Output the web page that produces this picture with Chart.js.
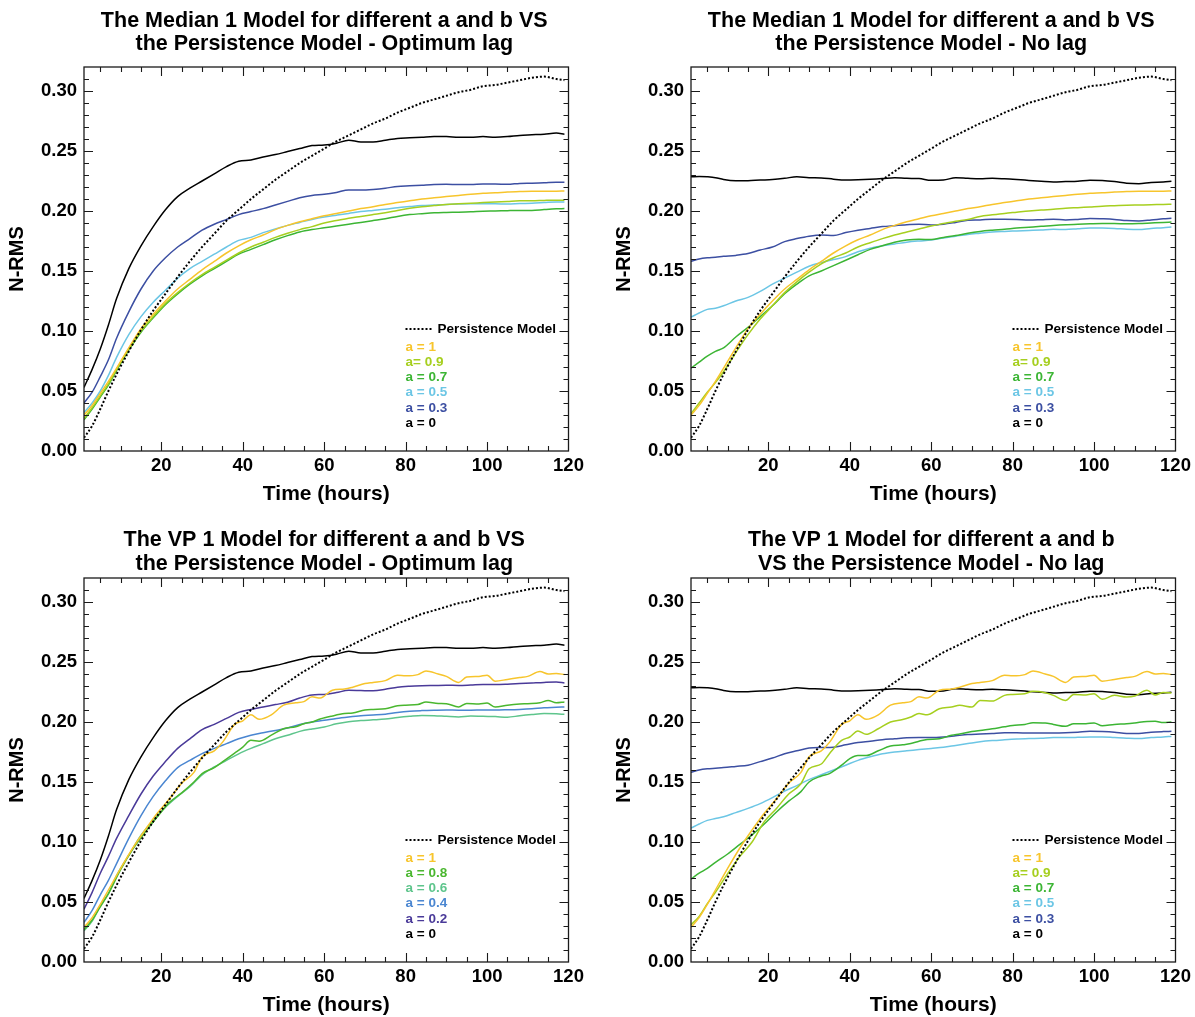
<!DOCTYPE html>
<html>
<head>
<meta charset="utf-8">
<script src="https://cdn.jsdelivr.net/npm/chart.js@4.4.1/dist/chart.umd.min.js"></script>
<style>
  body { margin: 0; background: #fff; overflow: hidden; }
  canvas { position: absolute; }
</style>
</head>
<body>
<canvas id="medianOpt" width="588" height="510" style="left:0;top:0"></canvas>
<canvas id="medianNoLag" width="588" height="510" style="left:607px;top:0"></canvas>
<canvas id="vpOpt" width="588" height="510" style="left:0;top:511px"></canvas>
<canvas id="vpNoLag" width="588" height="510" style="left:607px;top:511px"></canvas>
<script>
"use strict";

// forecast horizon (hours)
const hours = [1, 3, 5, 7, 9, 12, 15, 18, 21, 24, 27, 30, 33, 36, 39, 42, 45, 48, 51, 54, 57, 60,
  63, 66, 69, 72, 75, 78, 81, 84, 87, 90, 93, 96, 99, 102, 105, 108, 111, 114, 117, 119];
// finer grid for the noisier VP curves
const hoursVP = [1, 3, 5, 7, 10, 13, 16, 19, 22, 25, 28, 30, 33, 35, 38, 40, 42, 44, 47, 50, 53, 55,
  57, 59, 62, 65, 67, 70, 72, 75, 78, 80, 83, 85, 88, 90, 93, 95, 98, 100, 102, 105, 108, 110, 113,
  115, 117, 119];

const xTicks = [20, 40, 60, 80, 100, 120];
const yTicks = [0, 0.05, 0.10, 0.15, 0.20, 0.25, 0.30];

// N-RMS values
const persistence = [0.011, 0.021, 0.035, 0.050, 0.064, 0.083, 0.101, 0.117, 0.131, 0.145, 0.158,
  0.170, 0.181, 0.192, 0.201, 0.210, 0.218, 0.226, 0.233, 0.240, 0.246, 0.252, 0.258, 0.263, 0.268,
  0.273, 0.277, 0.282, 0.286, 0.290, 0.293, 0.296, 0.299, 0.301, 0.304, 0.305, 0.307, 0.309, 0.311,
  0.312, 0.310, 0.309];

const aZeroOptLag = [0.053, 0.068, 0.085, 0.105, 0.127, 0.152, 0.171, 0.187, 0.201, 0.212, 0.219,
  0.225, 0.231, 0.237, 0.2415, 0.2425, 0.245, 0.247, 0.2495, 0.252, 0.2545, 0.255, 0.2565, 0.259,
  0.2575, 0.2575, 0.259, 0.2605, 0.261, 0.2615, 0.262, 0.262, 0.2615, 0.2615, 0.262, 0.2615, 0.262,
  0.263, 0.2635, 0.264, 0.265, 0.264];

const aZeroNoLag = [0.2285, 0.2288, 0.2285, 0.2278, 0.2262, 0.2252, 0.2253, 0.2258, 0.2262, 0.2272,
  0.2286, 0.2278, 0.2276, 0.2265, 0.2258, 0.226, 0.2264, 0.227, 0.2278, 0.2272, 0.227, 0.2256,
  0.2258, 0.2278, 0.2272, 0.2268, 0.2272, 0.2268, 0.2262, 0.2255, 0.2248, 0.2242, 0.2245, 0.2248,
  0.2257, 0.2254, 0.2245, 0.2232, 0.2228, 0.2238, 0.2242, 0.2248];

const median_a1 = [0.030, 0.038, 0.048, 0.058, 0.069, 0.086, 0.102, 0.114, 0.125, 0.135, 0.143,
  0.151, 0.158, 0.165, 0.171, 0.176, 0.180, 0.1845, 0.188, 0.191, 0.1935, 0.196, 0.198, 0.200,
  0.202, 0.2035, 0.2055, 0.207, 0.2085, 0.210, 0.211, 0.212, 0.213, 0.214, 0.2148, 0.2152, 0.2158,
  0.2162, 0.2165, 0.2165, 0.2165, 0.2167];

const medOpt_a09 = [0.027, 0.036, 0.046, 0.056, 0.068, 0.085, 0.100, 0.112, 0.123, 0.132, 0.140,
  0.147, 0.153, 0.159, 0.165, 0.170, 0.174, 0.178, 0.1815, 0.1845, 0.187, 0.190, 0.192, 0.194,
  0.1955, 0.197, 0.1985, 0.2005, 0.2022, 0.2035, 0.2045, 0.2055, 0.206, 0.2065, 0.207, 0.2075,
  0.208, 0.2085, 0.2085, 0.2088, 0.209, 0.209];
const medOpt_a07 = [0.026, 0.035, 0.045, 0.055, 0.067, 0.084, 0.099, 0.111, 0.122, 0.131, 0.139,
  0.146, 0.152, 0.158, 0.164, 0.168, 0.172, 0.176, 0.1795, 0.1825, 0.1845, 0.186, 0.1875, 0.189,
  0.1905, 0.192, 0.1935, 0.1955, 0.197, 0.1978, 0.1985, 0.1988, 0.199, 0.1993, 0.1998, 0.200,
  0.2003, 0.2005, 0.2005, 0.2012, 0.2018, 0.202];
const medOpt_a05 = [0.032, 0.040, 0.050, 0.063, 0.078, 0.097, 0.112, 0.124, 0.134, 0.144, 0.152,
  0.158, 0.164, 0.170, 0.1755, 0.178, 0.182, 0.185, 0.188, 0.1905, 0.193, 0.195, 0.1965, 0.198,
  0.1995, 0.2005, 0.2015, 0.2028, 0.2037, 0.2045, 0.205, 0.2055, 0.2058, 0.206, 0.206, 0.206,
  0.2058, 0.2062, 0.2065, 0.207, 0.2075, 0.2075];
const medOpt_a03 = [0.040, 0.049, 0.062, 0.076, 0.094, 0.116, 0.135, 0.150, 0.161, 0.170, 0.177,
  0.184, 0.189, 0.193, 0.197, 0.1995, 0.202, 0.205, 0.208, 0.211, 0.213, 0.214, 0.2155, 0.2175,
  0.2175, 0.218, 0.219, 0.2205, 0.221, 0.2215, 0.222, 0.2222, 0.222, 0.222, 0.2225, 0.2225, 0.2222,
  0.223, 0.2232, 0.2235, 0.224, 0.224];

const medNo_a09 = [0.031, 0.040, 0.049, 0.057, 0.066, 0.082, 0.097, 0.110, 0.121, 0.132, 0.141,
  0.149, 0.156, 0.161, 0.165, 0.170, 0.1736, 0.177, 0.180, 0.1825, 0.185, 0.1875, 0.1895, 0.1915,
  0.193, 0.1955, 0.1968, 0.198, 0.199, 0.200, 0.2008, 0.2014, 0.2022, 0.2028, 0.2034, 0.204, 0.2044,
  0.2048, 0.205, 0.2052, 0.2055, 0.2056];
const medNo_a07 = [0.069, 0.074, 0.079, 0.083, 0.086, 0.095, 0.103, 0.112, 0.121, 0.131, 0.139,
  0.146, 0.150, 0.1545, 0.159, 0.1635, 0.168, 0.171, 0.174, 0.1758, 0.1765, 0.1762, 0.178, 0.1795,
  0.1815, 0.183, 0.184, 0.1848, 0.1858, 0.1865, 0.1872, 0.188, 0.1886, 0.189, 0.1893, 0.1895, 0.1895,
  0.1893, 0.1895, 0.190, 0.1905, 0.1908];
const medNo_a05 = [0.1115, 0.115, 0.118, 0.119, 0.121, 0.125, 0.128, 0.133, 0.139, 0.144, 0.149,
  0.154, 0.157, 0.1595, 0.162, 0.166, 0.169, 0.171, 0.1725, 0.174, 0.175, 0.1758, 0.1775, 0.179,
  0.1805, 0.1815, 0.1825, 0.183, 0.1834, 0.1838, 0.1842, 0.1847, 0.1845, 0.1852, 0.1858, 0.1858,
  0.1855, 0.1848, 0.1845, 0.1855, 0.186, 0.1867];
const medNo_a03 = [0.158, 0.160, 0.161, 0.1615, 0.1622, 0.163, 0.1645, 0.1675, 0.170, 0.1745, 0.177,
  0.179, 0.180, 0.1795, 0.182, 0.184, 0.1855, 0.187, 0.1878, 0.1885, 0.189, 0.1883, 0.189, 0.1905,
  0.1922, 0.1925, 0.1932, 0.1932, 0.193, 0.1925, 0.1928, 0.1932, 0.1925, 0.193, 0.1938, 0.1935,
  0.193, 0.192, 0.1917, 0.1925, 0.1935, 0.194];

// VP model, on hoursVP
const vp_a1 = [0.029, 0.037, 0.048, 0.060, 0.078, 0.095, 0.110, 0.124, 0.136, 0.149, 0.158, 0.171,
  0.176, 0.183, 0.198, 0.201, 0.206, 0.2022, 0.206, 0.214, 0.216, 0.217, 0.221, 0.220, 0.2265,
  0.2275, 0.229, 0.232, 0.233, 0.2345, 0.239, 0.2385, 0.2395, 0.2425, 0.240, 0.238, 0.233, 0.2375,
  0.238, 0.239, 0.234, 0.2355, 0.237, 0.238, 0.242, 0.240, 0.2405, 0.2395];
const vpOpt_a08 = [0.027, 0.035, 0.046, 0.057, 0.077, 0.094, 0.108, 0.121, 0.133, 0.141, 0.150,
  0.157, 0.162, 0.1667, 0.174, 0.179, 0.1847, 0.184, 0.189, 0.1944, 0.196, 0.1986, 0.200, 0.2025,
  0.205, 0.207, 0.2075, 0.210, 0.2105, 0.211, 0.2135, 0.214, 0.2145, 0.2167, 0.2155, 0.2153, 0.2125,
  0.2155, 0.215, 0.2158, 0.2125, 0.214, 0.215, 0.2153, 0.216, 0.218, 0.216, 0.2167];
const vpNo_a09 = [0.031, 0.038, 0.0486, 0.058, 0.0736, 0.088, 0.100, 0.117, 0.128, 0.140, 0.1486,
  0.161, 0.165, 0.1736, 0.1847, 0.1875, 0.1925, 0.1897, 0.1944, 0.200, 0.202, 0.2042, 0.207, 0.2061,
  0.2111, 0.2125, 0.2139, 0.2125, 0.218, 0.2175, 0.2222, 0.223, 0.2236, 0.2256, 0.2244, 0.2222,
  0.218, 0.223, 0.2225, 0.2236, 0.2189, 0.2222, 0.2208, 0.2217, 0.2264, 0.2225, 0.2245, 0.2242];
const vpNo_a07 = [0.069, 0.074, 0.078, 0.083, 0.090, 0.098, 0.106, 0.115, 0.125, 0.134, 0.142, 0.150,
  0.155, 0.157, 0.164, 0.1694, 0.172, 0.172, 0.176, 0.180, 0.181, 0.182, 0.184, 0.1855, 0.186, 0.189,
  0.190, 0.192, 0.193, 0.1944, 0.196, 0.197, 0.198, 0.1994, 0.1992, 0.198, 0.1964, 0.1986, 0.1986,
  0.1992, 0.1968, 0.198, 0.1985, 0.1992, 0.2005, 0.2006, 0.1995, 0.200];

// VP model, on hours
const vpOpt_a06 = [0.026, 0.034, 0.047, 0.057, 0.072, 0.089, 0.1056, 0.118, 0.129, 0.138, 0.146,
  0.156, 0.1625, 0.168, 0.1735, 0.178, 0.182, 0.186, 0.189, 0.1922, 0.1942, 0.1958, 0.1985, 0.2003,
  0.2012, 0.2018, 0.2025, 0.2038, 0.2048, 0.2055, 0.2053, 0.2047, 0.2042, 0.205, 0.2047, 0.2045,
  0.204, 0.2052, 0.2062, 0.207, 0.2068, 0.2064];
const vpOpt_a04 = [0.033, 0.043, 0.056, 0.068, 0.082, 0.103, 0.122, 0.138, 0.151, 0.162, 0.168,
  0.1736, 0.178, 0.182, 0.186, 0.189, 0.191, 0.193, 0.195, 0.198, 0.200, 0.2014, 0.203, 0.2042,
  0.2052, 0.2058, 0.2065, 0.208, 0.209, 0.2095, 0.2098, 0.210, 0.2098, 0.2098, 0.210, 0.210, 0.2102,
  0.2105, 0.211, 0.2118, 0.2122, 0.2125];
const vpOpt_a02 = [0.044, 0.058, 0.074, 0.088, 0.103, 0.122, 0.140, 0.155, 0.167, 0.178, 0.186,
  0.1936, 0.198, 0.203, 0.208, 0.2105, 0.2125, 0.2145, 0.2165, 0.220, 0.2225, 0.223, 0.2245, 0.2264,
  0.2262, 0.226, 0.2272, 0.229, 0.2298, 0.2302, 0.2304, 0.2306, 0.2305, 0.2308, 0.2312, 0.2312,
  0.2315, 0.232, 0.2325, 0.233, 0.2333, 0.2325];
const vpNo_a05 = [0.1115, 0.115, 0.118, 0.1195, 0.121, 0.1245, 0.128, 0.132, 0.137, 0.1425, 0.147,
  0.152, 0.156, 0.160, 0.164, 0.168, 0.171, 0.1735, 0.175, 0.176, 0.177, 0.178, 0.179, 0.1805, 0.182,
  0.1835, 0.1845, 0.1852, 0.1858, 0.1862, 0.1865, 0.187, 0.187, 0.1872, 0.1875, 0.1875, 0.187,
  0.1865, 0.1862, 0.187, 0.1875, 0.188];
const vpNo_a03 = [0.158, 0.160, 0.161, 0.1615, 0.162, 0.163, 0.164, 0.167, 0.170, 0.1735, 0.176,
  0.1783, 0.1788, 0.179, 0.181, 0.183, 0.184, 0.1852, 0.186, 0.1868, 0.187, 0.187, 0.1875, 0.1885,
  0.1895, 0.190, 0.1905, 0.191, 0.191, 0.1908, 0.1908, 0.1908, 0.191, 0.1915, 0.1922, 0.192, 0.1915,
  0.1905, 0.1905, 0.1915, 0.192, 0.1922];

const FONT = '"Liberation Sans", Arial, Helvetica, sans-serif';

const toPoints = (xs, ys) => xs.map((h, i) => ({ x: h, y: ys[i] }));

function line(label, color, xs, ys) {
  return {
    label: label,
    data: toPoints(xs, ys),
    borderColor: color,
    borderWidth: 1.5,
    pointRadius: 0,
    cubicInterpolationMode: "monotone",
    fill: false,
  };
}

function persistenceLine() {
  return {
    label: "Persistence Model",
    data: toPoints(hours, persistence),
    borderColor: "#000",
    borderWidth: 2,
    borderDash: [2, 2],
    pointRadius: 0,
    cubicInterpolationMode: "monotone",
    fill: false,
  };
}

// frame with inward ticks, the panel title and the in-plot legend
const framePlugin = {
  id: "frame",
  afterDatasetsDraw(chart, args, opts) {
    const { ctx, chartArea: a } = chart;
    const x = chart.scales.x;
    const y = chart.scales.y;
    ctx.save();
    ctx.strokeStyle = "#1a1a1a";
    ctx.lineWidth = 1.3;
    ctx.strokeRect(a.left, a.top, a.right - a.left, a.bottom - a.top);
    ctx.lineWidth = 1.1;
    ctx.beginPath();
    for (let h = 5; h < 120; h += 5) {
      const px = Math.round(x.getPixelForValue(h)) + 0.5;
      const len = h % 20 === 0 ? 9 : 5;
      ctx.moveTo(px, a.bottom);
      ctx.lineTo(px, a.bottom - len);
      ctx.moveTo(px, a.top);
      ctx.lineTo(px, a.top + len);
    }
    for (let k = 1; k < 32; k++) {
      const py = Math.round(y.getPixelForValue(k / 100)) + 0.5;
      const len = k % 5 === 0 ? 9 : 5;
      ctx.moveTo(a.left, py);
      ctx.lineTo(a.left + len, py);
      ctx.moveTo(a.right, py);
      ctx.lineTo(a.right - len, py);
    }
    ctx.stroke();

    // title
    ctx.fillStyle = "#000";
    ctx.textAlign = "center";
    ctx.textBaseline = "middle";
    ctx.font = "bold 21.5px " + FONT;
    const cx = (a.left + a.right) / 2 - 2;
    opts.title.forEach((t, i) => ctx.fillText(t, cx, opts.titleY[i]));

    // legend
    ctx.textAlign = "left";
    ctx.font = "bold 13.5px " + FONT;
    const lx = a.right - 163;
    const sets = chart.data.datasets;
    let ly = a.bottom - 122;
    ctx.strokeStyle = "#000";
    ctx.lineWidth = 2;
    ctx.setLineDash([2, 2]);
    ctx.beginPath();
    ctx.moveTo(lx, ly);
    ctx.lineTo(lx + 28, ly);
    ctx.stroke();
    ctx.setLineDash([]);
    ctx.fillText(sets[0].label, lx + 32, ly);
    ly += 18;
    for (let i = 1; i < sets.length; i++) {
      ctx.fillStyle = sets[i].borderColor;
      ctx.fillText(sets[i].label, lx, ly);
      ly += 15.2;
    }
    ctx.restore();
  },
};

function makeChart(id, title, titleY, datasets) {
  return new Chart(document.getElementById(id), {
    type: "line",
    data: { datasets: datasets },
    plugins: [framePlugin],
    options: {
      responsive: false,
      animation: false,
      devicePixelRatio: 1,
      layout: { padding: { top: 67, right: 19.5, bottom: 0, left: 0 } },
      plugins: {
        legend: { display: false },
        tooltip: { enabled: false },
        frame: { title: title, titleY: titleY },
      },
      scales: {
        x: {
          type: "linear",
          min: 1,
          max: 120,
          grid: { display: false, drawTicks: false },
          border: { display: false },
          afterBuildTicks: (scale) => {
            scale.ticks = xTicks.map((v) => ({ value: v }));
          },
          afterFit: (scale) => {
            scale.height = 59;
          },
          ticks: {
            color: "#000",
            font: { family: FONT, size: 18.5, weight: "bold" },
            padding: 4,
            maxRotation: 0,
            autoSkip: false,
          },
          title: {
            display: true,
            text: "Time (hours)",
            color: "#000",
            font: { family: FONT, size: 21, weight: "bold" },
            padding: { top: 0, bottom: 3.4 },
          },
        },
        y: {
          min: 0,
          max: 0.32,
          grid: { display: false, drawTicks: false },
          border: { display: false },
          afterBuildTicks: (scale) => {
            scale.ticks = yTicks.map((v) => ({ value: v }));
          },
          afterFit: (scale) => {
            scale.width = 84;
          },
          ticks: {
            color: "#000",
            font: { family: FONT, size: 18.5, weight: "bold" },
            padding: 7,
            callback: (v) => v.toFixed(2),
          },
          title: {
            display: true,
            text: "N-RMS",
            color: "#000",
            font: { family: FONT, size: 20, weight: "bold" },
            padding: { top: 5.5, bottom: 0 },
          },
        },
      },
    },
  });
}

const GOLD = "#f7c52c";
const LIME = "#a6cf1f";
const GREEN = "#3cb534";
const SKY = "#6cc6e5";
const NAVY = "#3c4fa2";

makeChart("medianOpt",
  ["The Median 1 Model for different a and b VS", "the Persistence Model - Optimum lag"], [21, 44], [
    persistenceLine(),
    line("a = 1", GOLD, hours, median_a1),
    line("a= 0.9", LIME, hours, medOpt_a09),
    line("a = 0.7", GREEN, hours, medOpt_a07),
    line("a = 0.5", SKY, hours, medOpt_a05),
    line("a = 0.3", NAVY, hours, medOpt_a03),
    line("a = 0", "#000", hours, aZeroOptLag),
  ]);

makeChart("medianNoLag",
  ["The Median 1 Model for different a and b VS", "the Persistence Model - No lag"], [21, 44], [
    persistenceLine(),
    line("a = 1", GOLD, hours, median_a1),
    line("a= 0.9", LIME, hours, medNo_a09),
    line("a = 0.7", GREEN, hours, medNo_a07),
    line("a = 0.5", SKY, hours, medNo_a05),
    line("a = 0.3", NAVY, hours, medNo_a03),
    line("a = 0", "#000", hours, aZeroNoLag),
  ]);

makeChart("vpOpt",
  ["The VP 1 Model for different a and b VS", "the Persistence Model - Optimum lag"], [29, 53], [
    persistenceLine(),
    line("a = 1", GOLD, hoursVP, vp_a1),
    line("a = 0.8", "#4ab72f", hoursVP, vpOpt_a08),
    line("a = 0.6", "#5ec58c", hours, vpOpt_a06),
    line("a = 0.4", "#4a86d1", hours, vpOpt_a04),
    line("a = 0.2", "#4a3a99", hours, vpOpt_a02),
    line("a = 0", "#000", hours, aZeroOptLag),
  ]);

makeChart("vpNoLag",
  ["The VP 1 Model for different a and b", "VS the Persistence Model - No lag"], [29, 53], [
    persistenceLine(),
    line("a = 1", GOLD, hoursVP, vp_a1),
    line("a= 0.9", LIME, hoursVP, vpNo_a09),
    line("a = 0.7", GREEN, hoursVP, vpNo_a07),
    line("a = 0.5", SKY, hours, vpNo_a05),
    line("a = 0.3", NAVY, hours, vpNo_a03),
    line("a = 0", "#000", hours, aZeroNoLag),
  ]);
</script>
</body>
</html>
